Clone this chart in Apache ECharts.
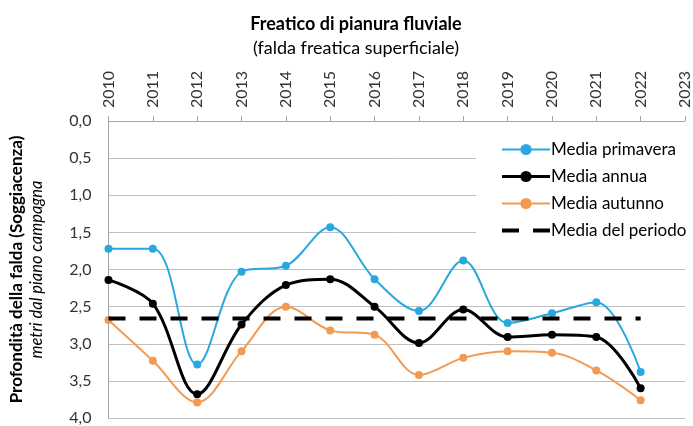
<!DOCTYPE html>
<html>
<head>
<meta charset="utf-8">
<script src="https://cdn.jsdelivr.net/npm/echarts@6/dist/echarts.min.js"></script>
<style>
    html, body { margin: 0; padding: 0; background: #fff; }
    #chart { width: 693px; height: 426px; }
</style>
</head>
<body>
<div id="chart"></div>
<script>
var years = ['2010', '2011', '2012', '2013', '2014', '2015', '2016', '2017', '2018', '2019', '2020', '2021', '2022', '2023'];
var mediaPrimavera = [1.72, 1.72, 3.28, 2.03, 1.95, 1.43, 2.13, 2.56, 1.88, 2.72, 2.59, 2.44, 3.38, null];
var mediaAnnua = [2.14, 2.46, 3.68, 2.74, 2.21, 2.13, 2.50, 2.99, 2.54, 2.91, 2.88, 2.91, 3.60, null];
var mediaAutunno = [2.68, 3.23, 3.79, 3.10, 2.50, 2.82, 2.88, 3.42, 3.19, 3.10, 3.12, 3.36, 3.76, null];
var mediaPeriodo = [2.66, 2.66, 2.66, 2.66, 2.66, 2.66, 2.66, 2.66, 2.66, 2.66, 2.66, 2.66, 2.66, null];

var chart = echarts.init(document.getElementById('chart'));
var font = 'Lato';

var option = {
    backgroundColor: '#fff',
    animation: false,
    textStyle: { fontFamily: font },
    title: {
        text: 'Freatico di pianura fluviale',
        subtext: '(falda freatica superficiale)',
        left: 351,
        textAlign: 'center',
        top: 10,
        itemGap: 6,
        textStyle: { fontFamily: font, fontSize: 18, fontWeight: 'bold', color: '#000' },
        subtextStyle: { fontFamily: font, fontSize: 18, color: '#000' }
    },
    grid: { left: 100, right: 7, top: 121, bottom: 5 },
    legend: {
        orient: 'vertical',
        left: 476,
        top: 136,
        padding: [5, 4, 8, 24],
        backgroundColor: '#fff',
        itemWidth: 48,
        itemHeight: 14,
        itemGap: 10,
        lineStyle: { width: 'inherit' },
        textStyle: { fontFamily: font, fontSize: 17, color: '#000', padding: [0, 0, 0, -4] },
        data: ['Media primavera', 'Media annua', 'Media autunno', 'Media del periodo']
    },
    xAxis: {
        type: 'category',
        position: 'top',
        boundaryGap: false,
        data: years,
        axisLine: { lineStyle: { color: '#a6a6a6', width: 1 } },
        axisTick: { show: true, length: 5, lineStyle: { color: '#a6a6a6' } },
        axisLabel: { rotate: 90, margin: 13, fontSize: 16, color: '#333', fontFamily: font },
        splitLine: { show: false }
    },
    yAxis: {
        type: 'value',
        inverse: true,
        min: 0,
        max: 4,
        interval: 0.5,
        axisLine: { show: true, lineStyle: { color: '#a6a6a6' } },
        axisTick: { show: false },
        axisLabel: {
            margin: 17,
            fontSize: 16,
            color: '#333',
            fontFamily: font,
            formatter: function (v) { return v.toFixed(1).replace('.', ','); }
        },
        splitLine: { lineStyle: { color: '#bfbfbf', width: 1 } },
        name: '{b|Profondità della falda (Soggiacenza)}\n{i|metri dal piano campagna}',
        nameLocation: 'middle',
        nameRotate: 90,
        nameGap: 62,
        nameTextStyle: {
            align: 'center',
            rich: {
                b: { fontFamily: font, fontSize: 17, fontWeight: 'bold', color: '#000', lineHeight: 20, align: 'center' },
                i: { fontFamily: font, fontSize: 16.5, fontStyle: 'italic', color: '#000', lineHeight: 20, align: 'center' }
            }
        }
    },
    series: [
        {
            name: 'Media primavera',
            type: 'line',
            smooth: 0.35,
            data: mediaPrimavera,
            symbol: 'circle',
            symbolSize: 8,
            itemStyle: { color: '#29a8df' },
            lineStyle: { color: '#29a8df', width: 2 },
            z: 3
        },
        {
            name: 'Media annua',
            type: 'line',
            smooth: 0.35,
            data: mediaAnnua,
            symbol: 'circle',
            symbolSize: 8,
            itemStyle: { color: '#000' },
            lineStyle: { color: '#000', width: 3 },
            z: 4
        },
        {
            name: 'Media autunno',
            type: 'line',
            smooth: 0.35,
            data: mediaAutunno,
            symbol: 'circle',
            symbolSize: 8,
            itemStyle: { color: '#f39a50' },
            lineStyle: { color: '#f39a50', width: 2 },
            z: 2
        },
        {
            name: 'Media del periodo',
            type: 'line',
            data: mediaPeriodo,
            symbol: 'none',
            // transparent item colour so the legend key shows only the dashes
            itemStyle: { color: 'rgba(0,0,0,0)', borderWidth: 0 },
            lineStyle: { color: '#000', width: 4, type: [17, 14] },
            z: 5
        }
    ]
};

option && chart.setOption(option);
</script>
</body>
</html>
